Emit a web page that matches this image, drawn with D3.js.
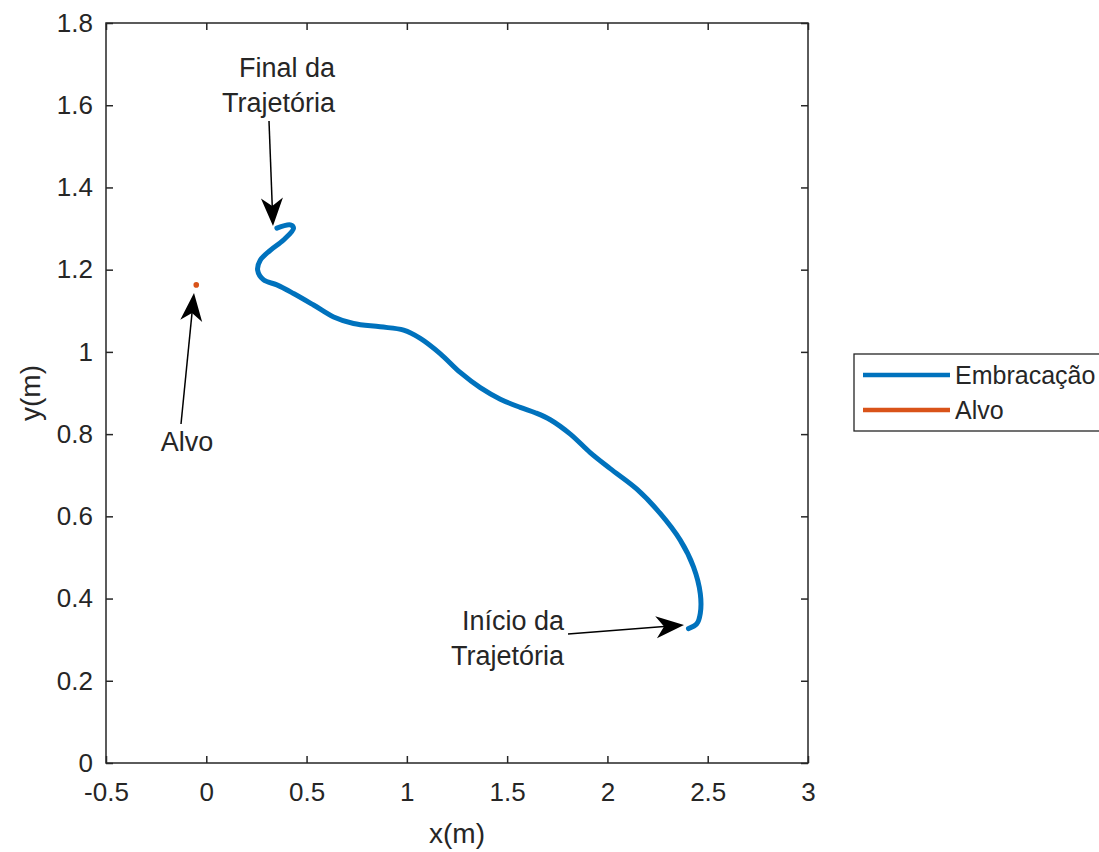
<!DOCTYPE html>
<html>
<head>
<meta charset="utf-8">
<script src="https://cdn.jsdelivr.net/npm/d3@7"></script>
<style>
  body { margin: 0; background: #fff; }
  svg { display: block; font-family: "Liberation Sans", Arial, sans-serif; }
</style>
</head>
<body>
<div id="chart"></div>
<script>
// trajectory of the boat, from start (Início) to end (Final), metres
var trajX = [2.404, 2.446, 2.463, 2.463, 2.429, 2.363, 2.263, 2.147, 2.014, 1.914, 1.815, 1.715, 1.640,
  1.565, 1.466, 1.366, 1.266, 1.166, 1.067, 0.984, 0.867, 0.734, 0.635, 0.535, 0.435, 0.352, 0.286,
  0.256, 0.269, 0.319, 0.385, 0.435, 0.419, 0.352];
var trajY = [0.327, 0.339, 0.364, 0.412, 0.477, 0.542, 0.607, 0.666, 0.716, 0.755, 0.800, 0.835, 0.852,
  0.865, 0.885, 0.913, 0.950, 0.996, 1.033, 1.053, 1.061, 1.069, 1.085, 1.114, 1.142, 1.163, 1.175,
  1.199, 1.223, 1.247, 1.272, 1.301, 1.309, 1.301];
var alvoX = [-0.05];
var alvoY = [1.163];
var xTicks = [-0.5, 0, 0.5, 1, 1.5, 2, 2.5, 3];
var yTicks = [0, 0.2, 0.4, 0.6, 0.8, 1, 1.2, 1.4, 1.6, 1.8];
var seriesNames = ["Embracação", "Alvo"];
var seriesColors = ["#0072BD", "#D95319"];

var W = 1099, H = 852;
var mLeft = 106, mRight = 808, mTop = 23, mBottom = 763;

var x = d3.scaleLinear().domain([-0.5, 3]).range([mLeft, mRight]);
var y = d3.scaleLinear().domain([0, 1.8]).range([mBottom, mTop]);

var svg = d3.select("#chart").append("svg")
  .attr("width", W)
  .attr("height", H);

var axisColor = "#262626";
var fs = 26;

// box
svg.append("rect")
  .attr("x", mLeft).attr("y", mTop)
  .attr("width", mRight - mLeft).attr("height", mBottom - mTop)
  .attr("fill", "none")
  .attr("stroke", axisColor)
  .attr("stroke-width", 1.5);

// ticks (inward, mirrored on top/right like matlab)
var tl = 7;
var fmt = function (d) { return String(d); };
var xAxisB = d3.axisBottom(x).tickValues(xTicks).tickSizeInner(-tl).tickSizeOuter(0).tickPadding(20).tickFormat(fmt);
var xAxisT = d3.axisTop(x).tickValues(xTicks).tickSizeInner(-tl).tickSizeOuter(0).tickFormat("");
var yAxisL = d3.axisLeft(y).tickValues(yTicks).tickSizeInner(-tl).tickSizeOuter(0).tickPadding(13).tickFormat(fmt);
var yAxisR = d3.axisRight(y).tickValues(yTicks).tickSizeInner(-tl).tickSizeOuter(0).tickFormat("");

function styleAxis(g) {
  g.select(".domain").remove();
  g.selectAll(".tick line").attr("stroke", axisColor).attr("stroke-width", 1.5);
  g.selectAll(".tick text").attr("fill", axisColor).style("font-size", fs + "px")
    .style("font-family", "'Liberation Sans', Arial, sans-serif");
}

svg.append("g").attr("transform", "translate(0," + mBottom + ")").call(xAxisB).call(styleAxis)
  .selectAll(".tick text").attr("dy", "0.71em");
svg.append("g").attr("transform", "translate(0," + mTop + ")").call(xAxisT).call(styleAxis);
svg.append("g").attr("transform", "translate(" + mLeft + ",0)").call(yAxisL).call(styleAxis);
svg.append("g").attr("transform", "translate(" + mRight + ",0)").call(yAxisR).call(styleAxis);

// axis labels
svg.append("text")
  .attr("x", (mLeft + mRight) / 2).attr("y", 843)
  .attr("text-anchor", "middle")
  .attr("fill", axisColor)
  .style("font-size", "28px")
  .text("x(m)");
svg.append("text")
  .attr("transform", "translate(40," + ((mTop + mBottom) / 2) + ") rotate(-90)")
  .attr("text-anchor", "middle")
  .attr("fill", axisColor)
  .style("font-size", "28px")
  .text("y(m)");

// trajectory
var traj = trajX.map(function (d, i) { return [d, trajY[i]]; });
var line = d3.line()
  .x(function (d) { return x(d[0]); })
  .y(function (d) { return y(d[1]); })
  .curve(d3.curveCatmullRom.alpha(0.5));

svg.append("path")
  .datum(traj)
  .attr("d", line)
  .attr("fill", "none")
  .attr("stroke", seriesColors[0])
  .attr("stroke-width", 5)
  .attr("stroke-linejoin", "round")
  .attr("stroke-linecap", "round");

// target
svg.selectAll(".alvo")
  .data(alvoX)
  .enter().append("circle")
  .attr("class", "alvo")
  .attr("cx", function (d) { return x(d); })
  .attr("cy", function (d, i) { return y(alvoY[i]); })
  .attr("r", 2.8)
  .attr("fill", seriesColors[1]);

// annotation arrows (figure units in px)
function arrow(x1, y1, x2, y2) {
  var ang = Math.atan2(y2 - y1, x2 - x1);
  var L = 28, hw = 11, notch = 20;
  var g = svg.append("g");
  var bx = x2 - notch * Math.cos(ang), by = y2 - notch * Math.sin(ang);
  g.append("line")
    .attr("x1", x1).attr("y1", y1).attr("x2", bx).attr("y2", by)
    .attr("stroke", "#000").attr("stroke-width", 1.5);
  var c = Math.cos(ang), s = Math.sin(ang);
  function pt(u, v) { return [x2 + u * c - v * s, y2 + u * s + v * c]; }
  var pts = [pt(0, 0), pt(-L, hw), pt(-notch, 0), pt(-L, -hw)];
  g.append("path")
    .attr("d", "M" + pts.map(function (p) { return p.join(","); }).join("L") + "Z")
    .attr("fill", "#000");
}

arrow(269, 121, 273, 226);
arrow(181, 424, 194, 293);
arrow(568, 634, 684, 625);

function label(xx, yy, lines, anchor) {
  var t = svg.append("text")
    .attr("text-anchor", anchor)
    .attr("fill", axisColor)
    .style("font-size", "27px");
  lines.forEach(function (s, i) {
    t.append("tspan").attr("x", xx).attr("y", yy + i * 35).text(s);
  });
}
label(335, 77, ["Final da", "Trajetória"], "end");
label(564, 630, ["Início da", "Trajetória"], "end");
label(187, 451, ["Alvo"], "middle");

// legend
var lg = svg.append("g");
lg.append("rect")
  .attr("x", 854).attr("y", 354)
  .attr("width", 270).attr("height", 77)
  .attr("fill", "#fff")
  .attr("stroke", axisColor)
  .attr("stroke-width", 1.3);
seriesNames.forEach(function (n, i) {
  var yy = 375 + i * 35;
  lg.append("line")
    .attr("x1", 863).attr("x2", 950).attr("y1", yy).attr("y2", yy)
    .attr("stroke", seriesColors[i]).attr("stroke-width", 4.5);
  lg.append("text")
    .attr("x", 955).attr("y", yy)
    .attr("dy", "0.35em")
    .attr("fill", axisColor)
    .style("font-size", "25px")
    .text(n);
});
</script>
</body>
</html>
